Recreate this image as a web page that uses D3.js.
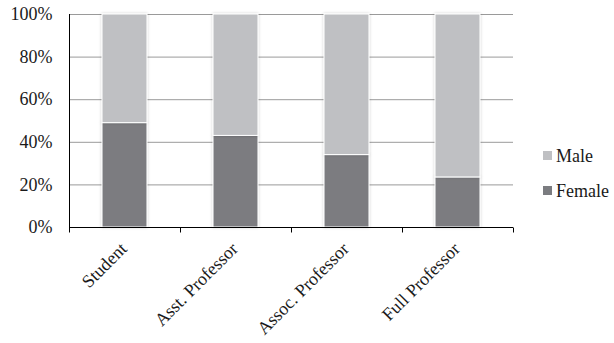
<!DOCTYPE html>
<html>
<head>
<meta charset="utf-8">
<script src="https://cdn.jsdelivr.net/npm/d3@7"></script>
<style>
  html, body { margin: 0; padding: 0; background: #fff; }
  svg { display: block; }
</style>
</head>
<body>
<svg id="chart" width="614" height="343"></svg>
<script>
// Share of women and men at each academic career stage (percent)
const categories = ["Student", "Asst. Professor", "Assoc. Professor", "Full Professor"];
const femaleValues = [49, 43, 34, 23.5];
const maleValues = [51, 57, 66, 76.5];
const seriesNames = ["Male", "Female"];
const yTicks = [0, 20, 40, 60, 80, 100];

const colors = { Female: "#7b7c80", Male: "#bfc0c3" };
const FONT = "'Liberation Serif', 'Times New Roman', Times, serif";
const TEXT_COLOR = "#1a1a1a";

const svg = d3.select("#chart");
const margin = { left: 69, right: 101, top: 14, bottom: 116 };
const W = 614, H = 343;

const x = d3.scaleBand()
  .domain(categories)
  .range([margin.left, W - margin.right])
  .paddingInner(0.595)
  .paddingOuter(0.2975);

const y = d3.scaleLinear()
  .domain([0, 100])
  .range([H - margin.bottom, margin.top]);

// Horizontal gridlines
svg.append("g")
  .selectAll("line")
  .data(yTicks.filter(d => d > 0))
  .join("line")
  .attr("x1", margin.left)
  .attr("x2", W - margin.right)
  .attr("y1", d => y(d) + 0.5)
  .attr("y2", d => y(d) + 0.5)
  .attr("stroke", "#9a9a9a")
  .attr("stroke-width", 1);

// Stacked data
const rows = categories.map((c, i) => ({ category: c, Female: femaleValues[i], Male: maleValues[i] }));
const layers = d3.stack().keys(["Female", "Male"])(rows);

// Soft shadow behind bars
const defs = svg.append("defs");
const f = defs.append("filter").attr("id", "shadow")
  .attr("x", "-20%").attr("y", "-5%").attr("width", "140%").attr("height", "115%");
f.append("feDropShadow").attr("dx", 0).attr("dy", 0).attr("stdDeviation", 1.5)
  .attr("flood-color", "#000").attr("flood-opacity", 0.22);

svg.append("g")
  .selectAll("g")
  .data(layers)
  .join("g")
  .attr("fill", d => colors[d.key])
  .selectAll("rect")
  .data(d => d)
  .join("rect")
  .attr("x", d => x(d.data.category))
  .attr("y", d => y(d[1]))
  .attr("width", x.bandwidth())
  .attr("height", d => y(d[0]) - y(d[1]))
  .attr("stroke", "#ffffff")
  .attr("stroke-width", 1)
  .attr("filter", "url(#shadow)");

// Y axis
const yAxis = d3.axisLeft(y)
  .tickValues(yTicks)
  .tickFormat(d => d + "%")
  .tickSize(0)
  .tickPadding(17);
const yg = svg.append("g")
  .attr("transform", `translate(${margin.left + 0.5},0)`)
  .call(yAxis)
  .attr("font-family", FONT)
  .attr("font-size", 18);
yg.select(".domain").attr("stroke", "#000").attr("d", `M0,${y(100)}V${y(0)}`);
yg.selectAll("text").attr("fill", TEXT_COLOR);

// X axis with ticks at category boundaries
const plotW = W - margin.left - margin.right;
const xg = svg.append("g").attr("transform", `translate(0,${y(0) + 0.5})`);
xg.append("line")
  .attr("x1", margin.left).attr("x2", W - margin.right)
  .attr("stroke", "#000");
xg.selectAll("line.tick")
  .data(d3.range(categories.length + 1))
  .join("line")
  .attr("class", "tick")
  .attr("x1", i => margin.left + i * plotW / categories.length + 0.5)
  .attr("x2", i => margin.left + i * plotW / categories.length + 0.5)
  .attr("y1", 0).attr("y2", 5)
  .attr("stroke", "#000");

xg.selectAll("text")
  .data(categories)
  .join("text")
  .attr("transform", d => `translate(${x(d) + x.bandwidth() / 2 - 1},18) rotate(-45)`)
  .attr("text-anchor", "end")
  .attr("dy", "0.35em")
  .attr("font-family", FONT)
  .attr("font-size", 18)
  .attr("fill", TEXT_COLOR)
  .text(d => d);

// Legend
const legend = svg.append("g").attr("transform", "translate(543,0)");
const legendY = { Male: 156, Female: 191 };
seriesNames.forEach(name => {
  const g = legend.append("g").attr("transform", `translate(0,${legendY[name]})`);
  g.append("rect").attr("x", 0).attr("y", -5).attr("width", 9).attr("height", 9).attr("fill", colors[name]);
  g.append("text").attr("x", 13).attr("y", 0).attr("dy", "0.35em")
    .attr("font-family", FONT)
    .attr("font-size", 18)
    .attr("fill", TEXT_COLOR)
    .text(name);
});
</script>
</body>
</html>
